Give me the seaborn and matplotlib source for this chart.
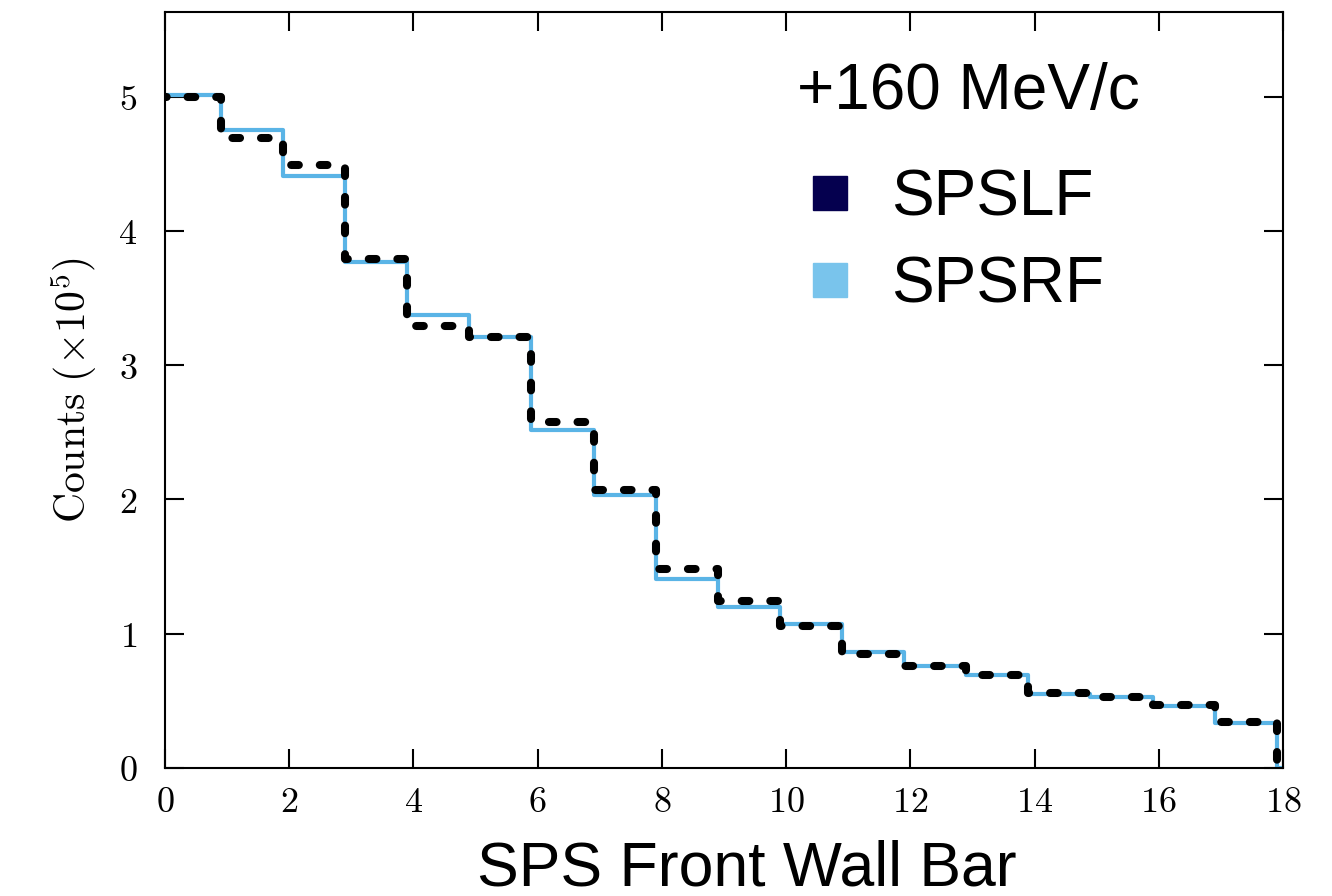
import numpy as np
import pandas as pd
import matplotlib
matplotlib.use("Agg")
import matplotlib.pyplot as plt
import seaborn as sns
from matplotlib.lines import Line2D

# ---- data (counts in units of 1e5) ----
# 18 front-wall bars plus an empty bin after the last one (histogram closes to 0)
bar_edges = [-0.1 + i for i in range(20)]
bar_centers = [0.4 + i for i in range(19)]
spslf = [5.00, 4.69, 4.49, 3.79, 3.29, 3.21, 2.58, 2.07, 1.48, 1.24,
         1.06, 0.85, 0.76, 0.69, 0.556, 0.528, 0.47, 0.343, 0.0]
spsrf = [5.01, 4.75, 4.41, 3.77, 3.375, 3.21, 2.52, 2.03, 1.41, 1.20,
         1.073, 0.862, 0.762, 0.693, 0.55, 0.53, 0.462, 0.333, 0.0]
x_ticks = [0, 2, 4, 6, 8, 10, 12, 14, 16, 18]
y_ticks = [0, 1, 2, 3, 4, 5]

n = len(bar_centers)
df = pd.DataFrame({"bar": bar_centers * 2,
                   "counts": spsrf + spslf,
                   "series": ["SPSRF"] * n + ["SPSLF"] * n})

sns.set_style("ticks")
plt.rcParams["mathtext.fontset"] = "cm"
plt.rcParams["font.family"] = ["Liberation Sans", "DejaVu Sans"]
for k in ["text.color", "axes.labelcolor", "xtick.color", "ytick.color",
          "axes.edgecolor"]:
    plt.rcParams[k] = "black"

fig = plt.figure(figsize=(13.32, 8.96), dpi=100)
ax = fig.add_axes([0.1239, 0.1429, 0.8393, 0.8437])

line_blue = "#5ab4e6"
sns.histplot(data=df[df.series == "SPSRF"], x="bar", weights="counts",
             bins=bar_edges, element="step", fill=False, color=line_blue,
             linewidth=3.0, ax=ax)
sns.histplot(data=df[df.series == "SPSLF"], x="bar", weights="counts",
             bins=bar_edges, element="step", fill=False, color="black",
             linewidth=5.8, linestyle=(0, (0.95, 2.6)), dash_capstyle="round",
             ax=ax)

ax.set_xlim(0, 18)
ax.set_ylim(0, 5.63)
ax.set_xticks(x_ticks)
ax.set_yticks(y_ticks)
ax.set_xticklabels([f"${t}$" for t in x_ticks])
ax.set_yticklabels([f"${t}$" for t in y_ticks])
ax.tick_params(axis="both", which="major", direction="in", length=14,
               width=1.5, labelsize=26, top=True, right=True, color="black",
               labelcolor="black")
ax.tick_params(axis="x", pad=12)
ax.tick_params(axis="y", pad=20)
for sp in ax.spines.values():
    sp.set_linewidth(1.5)
    sp.set_color("black")

ax.set_xlabel("SPS Front Wall Bar", fontsize=45, color="black")
ax.xaxis.set_label_coords(0.52, -0.094)
ax.set_ylabel(r"$\mathrm{Counts}\ (\times 10^{5})$", fontsize=30,
              labelpad=14, color="black")

handles = [Line2D([], [], marker="s", linestyle="none", markersize=24,
                  markerfacecolor="#05004f", markeredgecolor="#05004f"),
           Line2D([], [], marker="s", linestyle="none", markersize=24,
                  markerfacecolor="#79c4ec", markeredgecolor="#79c4ec")]
leg = ax.legend(handles, ["SPSLF", "SPSRF"], loc="upper left",
                bbox_to_anchor=(0.515, 0.869), frameon=False, fontsize=46,
                handletextpad=0.45, labelspacing=0.42, handlelength=1.0)
for t in leg.get_texts():
    t.set_color("black")
fig.text(0.598, 0.897, "+160 MeV/c", fontsize=46, ha="left", va="center",
         color="black")

fig.savefig("out.png", dpi=100)
